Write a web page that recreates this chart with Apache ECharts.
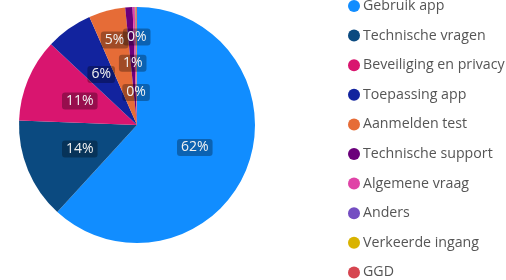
<!DOCTYPE html>
<html>
<head>
<meta charset="utf-8">
<script src="https://cdn.jsdelivr.net/npm/echarts@6/dist/echarts.min.js"></script>
<style>
  html, body { margin: 0; padding: 0; background: #fff; }
  #chart { width: 506px; height: 280px; }
</style>
</head>
<body>
<div id="chart"></div>
<script>
// ===== Data =====
const categories = ['Gebruik app', 'Technische vragen', 'Beveiliging en privacy', 'Toepassing app',
  'Aanmelden test', 'Technische support', 'Algemene vraag', 'Anders', 'Verkeerde ingang', 'GGD'];
const shares = [61.8, 13.8, 11.4, 6.4, 5.0, 1.0, 0.3, 0.1, 0.1, 0.1];
const colors = ['#118DFF', '#0B4A80', '#D9156F', '#12239E', '#E66C37',
  '#6B007B', '#E044A7', '#744EC2', '#D9B300', '#D64550'];

// label ring per slice: mid, outer, top, inner or none
const labelRing = ['mid', 'mid', 'mid', 'mid', 'outer', 'mid', 'inner', 'none', 'none', 'top'];

const chart = echarts.init(document.getElementById('chart'), null, { renderer: 'canvas' });

const labelBox = {
  show: true,
  position: 'inside',
  formatter: p => Math.round(p.value) + '%',
  color: '#f2f2f2',
  fontFamily: 'Open Sans',
  fontSize: 14,
  backgroundColor: 'rgba(0,0,0,0.3)',
  borderRadius: 3,
  padding: [2, 4, 1, 4]
};

function pieData(ring, hidden) {
  return categories.map((name, i) => ({
    name,
    value: shares[i],
    itemStyle: { color: hidden ? 'rgba(0,0,0,0)' : colors[i] },
    label: { show: labelRing[i] === ring }
  }));
}

const R = 118;
const common = {
  type: 'pie',
  center: [137, 125],
  startAngle: 90,
  clockwise: true,
  minAngle: 0,
  avoidLabelOverlap: false,
  labelLine: { show: false },
  labelLayout: { hideOverlap: false },
  emphasis: { disabled: true },
  label: labelBox
};

// invisible pies over the same slices, only to carry labels at other radii
function labelRingSeries(ring, factor) {
  return Object.assign({}, common, {
    name: ring,
    radius: [0, R * factor],
    silent: true,
    z: 3,
    data: pieData(ring, true)
  });
}

chart.setOption({
  animation: false,
  color: colors,
  legend: {
    orient: 'vertical',
    left: 343,
    top: -6,
    height: 340,
    icon: 'circle',
    itemWidth: 12,
    itemHeight: 12,
    itemGap: 15.6,
    textStyle: { color: '#555', fontFamily: 'Open Sans', fontSize: 14.2, padding: [0, 0, 0, -2] },
    data: categories
  },
  series: [
    Object.assign({}, common, {
      name: 'main',
      radius: [0, R],
      data: pieData('mid', false)
    }),
    labelRingSeries('outer', 1.44),
    labelRingSeries('top', 1.44),
    labelRingSeries('inner', 0.5)
  ]
});
</script>
</body>
</html>
